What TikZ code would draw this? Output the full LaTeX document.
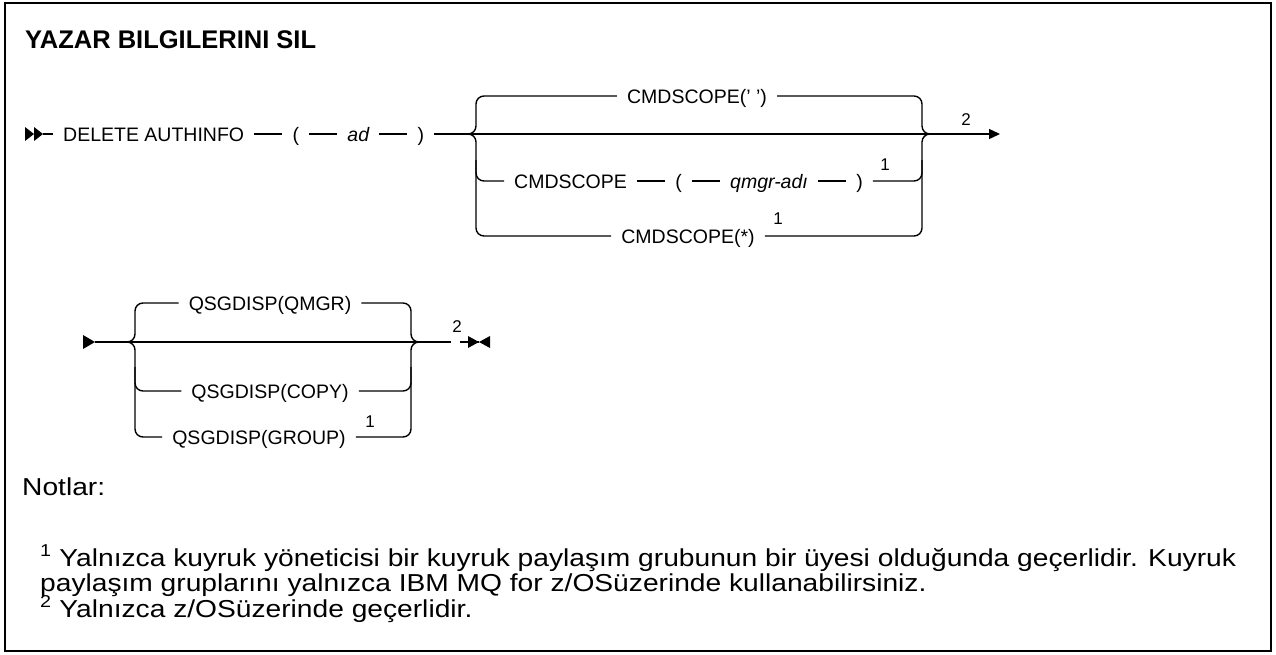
\documentclass[tikz,border=0pt]{standalone}
\usepackage{fontspec}
\setmainfont{Liberation Sans}
\newfontfamily\notefamily{Liberation Sans}[FakeStretch=1.15]
\usetikzlibrary{arrows.meta, positioning}

\newcommand\dfont{\fontsize{19.5}{22}\selectfont}
\newcommand\rfont{\fontsize{17}{17}\selectfont}
\newcommand\tfont{\fontsize{25.5}{28}\bfseries\selectfont}
\newcommand\nfont{\notefamily\fontsize{24.5}{25.5}\selectfont}

\begin{document}
\begin{tikzpicture}[
    x=1pt, y=-1pt,
    node distance=28pt,
    >={Triangle[length=11pt, width=10pt]},
    every node/.style={font=\dfont},
    tok/.style={inner xsep=10pt, inner ysep=0pt, text height=14pt, text depth=0pt},
    var/.style={tok, font=\dfont\itshape},
    ref/.style={font=\rfont, inner sep=0pt},
    rail/.style={line width=1.4pt, rounded corners=8pt},
    tip/.style={fill=black},
    noteline/.style={anchor=base west, font=\nfont, inner sep=0pt}
  ]
  \useasboundingbox (0,0) rectangle (1276,654);
  \draw[line width=1.6pt] (5,3) rectangle (1271,651);

  \node[anchor=base west, font=\tfont, inner sep=0pt] (title) at (25,48) {YAZAR BILGILERINI SIL};

  % first line
  \fill[tip] (25,127) -- (34,134) -- (25,141) -- cycle;
  \fill[tip] (34,127) -- (43,134) -- (34,141) -- cycle;
  \coordinate (s1) at (43,134);
  \node[tok, anchor=west] (del) at (53,134) {DELETE AUTHINFO};
  \node[tok, right=of del] (lp1) {(};
  \node[var, right=of lp1] (ad) {ad};
  \node[tok, right=of ad] (rp1) {)};
  \draw[rail] (s1) -- (del);
  \draw[rail] (del) -- (lp1);
  \draw[rail] (lp1) -- (ad);
  \draw[rail] (ad) -- (rp1);

  \coordinate (f1) at (468,134);
  \coordinate (l1) at (476,134);
  \coordinate (r1) at (922,134);
  \coordinate (f2) at (930,134);

  \node[tok] (scp) at (697,96) {CMDSCOPE(' ')};
  \node[tok, anchor=west] (scq) at (504,181) {CMDSCOPE};
  \node[tok, right=of scq] (lp2) {(};
  \node[var, right=of lp2] (qmgr) {qmgr-adı};
  \node[tok, right=of qmgr] (rp2) {)};
  \node[ref] (fnq) at (885,165) {1};
  \node[tok] (scs) at (688,236) {CMDSCOPE(*)};
  \node[ref] (fns) at (778,219) {1};

  \draw[rail] (rp1) -- (f1);
  \draw[rail] (f1) -- (l1) |- (scp);
  \draw[rail] (f1) -- (l1) |- (scs);
  \draw[rail] (l1) ++(0,26) |- (scq);
  \draw[rail] (scq) -- (lp2);
  \draw[rail] (lp2) -- (qmgr);
  \draw[rail] (qmgr) -- (rp2);
  \draw[rail] (f1) -- (f2);
  \draw[rail] (scp) -| (r1) -- (f2);
  \draw[rail] (scs) -| (r1) -- (f2);
  \draw[rail] (rp2) -| ([yshift=-26pt]r1);

  \node[ref] (fn1) at (966,120) {2};
  \coordinate (e1) at (1000,134);
  \draw[rail, ->] (f2) -- (e1);

  % second line
  \fill[tip] (83,335) -- (95,342) -- (83,349) -- cycle;
  \coordinate (s2) at (95,342);
  \coordinate (f3) at (128,342);
  \coordinate (l2) at (135,342);
  \coordinate (r2) at (411,342);
  \coordinate (f4) at (418,342);

  \node[tok] (qm) at (270,303) {QSGDISP(QMGR)};
  \node[tok] (qc) at (270,391) {QSGDISP(COPY)};
  \node[tok] (qg) at (259,437) {QSGDISP(GROUP)};
  \node[ref] (fng) at (370,422) {1};

  \draw[rail] (s2) -- (f3) -- (f4);
  \draw[rail] (f3) -- (l2) |- (qm);
  \draw[rail] (f3) -- (l2) |- (qg);
  \draw[rail] (l2) ++(0,25) |- (qc);
  \draw[rail] (qm) -| (r2) -- (f4);
  \draw[rail] (qg) -| (r2) -- (f4);
  \draw[rail] (qc) -| ([yshift=-25pt]r2);

  \node[ref] (fn2) at (457,327) {2};
  \coordinate (g1) at (451,342);
  \coordinate (g2) at (460,342);
  \coordinate (e2) at (479,342);
  \draw[rail] (f4) -- (g1);
  \draw[rail] (g2) -- (e2);
  \fill[tip] (468,336) -- (479,342) -- (468,348) -- cycle;
  \fill[tip] (490,336) -- (479,342) -- (490,348) -- cycle;

  % notes
  \node[noteline] (notlar) at (22,495) {Notlar:};
  \node[noteline] (note1) at (40,566) {\textsuperscript{1} Yalnızca kuyruk yöneticisi bir kuyruk paylaşım grubunun bir üyesi olduğunda geçerlidir. Kuyruk};
  \node[noteline] (note1b) at (40,591.5) {paylaşım gruplarını yalnızca IBM MQ for z/OSüzerinde kullanabilirsiniz.};
  \node[noteline] (note2) at (40,617) {\textsuperscript{2} Yalnızca z/OSüzerinde geçerlidir.};
\end{tikzpicture}
\end{document}
